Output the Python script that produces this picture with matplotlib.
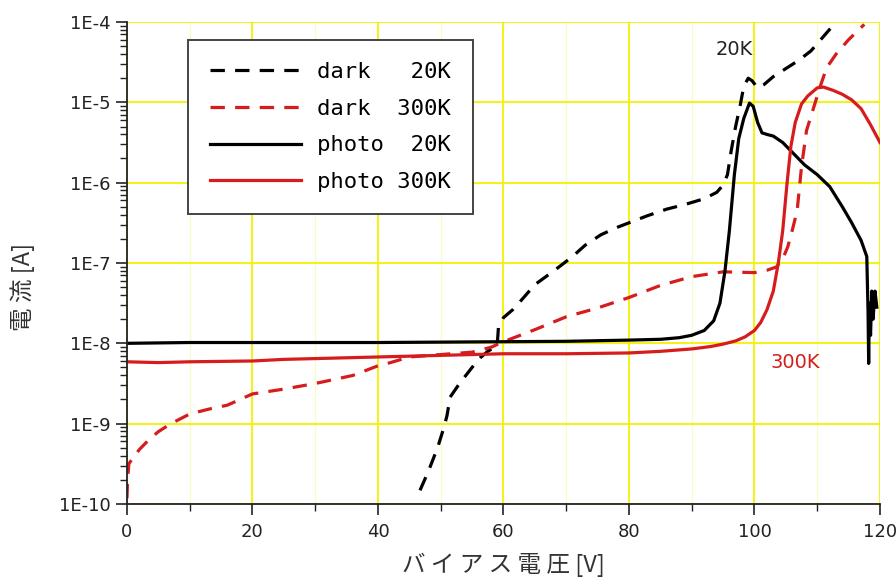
import numpy as np
import matplotlib.pyplot as plt
from matplotlib.ticker import FixedLocator, FuncFormatter, LogLocator, NullFormatter

# bias voltage [V] and log10(current [A])
dark20_v = [46.7, 48, 49.5, 50.5, 51, 51.5, 53, 55, 56.3, 57.5, 59, 59.2, 60, 61.5,
            63, 65, 68, 71, 73, 75.5, 78, 80, 83, 86, 89, 92, 94, 95, 95.7, 96.3,
            97, 97.7, 98.3, 99, 99.6, 100.5, 101.5, 103, 105, 107, 109, 111, 113]
dark20_log = [-9.83, -9.6, -9.3, -9.05, -8.9, -8.67, -8.5, -8.3, -8.18, -8.1, -8.03, -7.8,
              -7.68, -7.58, -7.45, -7.27, -7.1, -6.92, -6.78, -6.65, -6.56, -6.5, -6.41,
              -6.33, -6.27, -6.2, -6.12, -6.03, -5.9, -5.6, -5.3, -5.05, -4.8, -4.7, -4.73,
              -4.82, -4.78, -4.68, -4.58, -4.48, -4.36, -4.18, -4.0]

dark300_v = [0, 0.1, 0.3, 1, 2, 3.5, 5, 7, 10, 13, 16, 20, 25, 30, 36, 40, 42, 45, 50,
             55, 58, 60, 65, 70, 75, 80, 85, 90, 95, 100, 102, 103.5, 104.5, 105.3, 106,
             106.8, 107.5, 108.3, 109.3, 110.4, 111.5, 113, 115, 117.5]
dark300_log = [-9.93, -9.7, -9.5, -9.42, -9.32, -9.2, -9.1, -9.0, -8.88, -8.82, -8.77,
               -8.63, -8.57, -8.5, -8.4, -8.28, -8.24, -8.17, -8.14, -8.11, -8.05, -7.98,
               -7.83, -7.67, -7.56, -7.43, -7.28, -7.17, -7.11, -7.12, -7.09, -7.05, -6.95,
               -6.8, -6.6, -6.35, -5.8, -5.35, -5.1, -4.82, -4.57, -4.4, -4.22, -4.03]

photo20_v = [0, 10, 20, 30, 40, 50, 60, 70, 80, 85, 88, 90, 92, 93.5, 94.5, 95.3, 96,
             96.8, 97.5, 98.3, 99.2, 99.8, 100.5, 101.2, 102, 103, 104.5, 106, 108, 110,
             112, 114, 115.5, 117, 117.9, 118.1, 118.2, 118.3, 118.5, 118.7, 118.9, 119.2,
             119.5]
photo20_log = [-8.0, -7.99, -7.99, -7.99, -7.99, -7.985, -7.98, -7.975, -7.96, -7.95,
               -7.93, -7.9, -7.84, -7.72, -7.5, -7.1, -6.6, -5.9, -5.45, -5.2, -5.01,
               -5.05, -5.25, -5.38, -5.4, -5.42, -5.5, -5.62, -5.78, -5.9, -6.05, -6.3,
               -6.5, -6.72, -6.92, -7.6, -8.25, -7.5, -7.9, -7.35, -7.7, -7.35, -7.55]

photo300_v = [0, 5, 10, 20, 25, 30, 40, 50, 60, 70, 80, 85, 90, 93, 95, 97, 98.5, 100,
              101, 102, 103, 103.8, 104.5, 105.2, 105.8, 106.5, 107.5, 108.5, 110, 111,
              112.5, 114, 115.5, 117, 118.5, 120]
photo300_log = [-8.23, -8.24, -8.23, -8.22, -8.2, -8.19, -8.17, -8.15, -8.13, -8.13,
                -8.12, -8.1, -8.07, -8.04, -8.01, -7.97, -7.92, -7.84, -7.74, -7.58, -7.35,
                -7.0, -6.6, -6.0, -5.55, -5.25, -5.02, -4.92, -4.82, -4.81, -4.85, -4.9,
                -4.97, -5.08, -5.28, -5.5]

labels = ['dark   20K', 'dark  300K', 'photo  20K', 'photo 300K']
red = '#d61c1c'

fig = plt.figure(figsize=(8.96, 5.85), dpi=100)
ax = fig.add_axes([0.1417, 0.1385, 0.8404, 0.8239])

dash = (0, (4.5, 3.2))
ax.plot(dark20_v, 10 ** np.array(dark20_log), color='black', lw=2.3, ls=dash, label=labels[0])
ax.plot(dark300_v, 10 ** np.array(dark300_log), color=red, lw=2.3, ls=dash, label=labels[1])
ax.plot(photo20_v, 10 ** np.array(photo20_log), color='black', lw=2.3, label=labels[2])
ax.plot(photo300_v, 10 ** np.array(photo300_log), color=red, lw=2.3, label=labels[3])

ax.set_yscale('log')
ax.set_xlim(0, 120)
ax.set_ylim(1e-10, 1e-4)

ax.xaxis.set_major_locator(FixedLocator([0, 20, 40, 60, 80, 100, 120]))
ax.xaxis.set_minor_locator(FixedLocator([10, 30, 50, 70, 90, 110]))
ax.yaxis.set_major_locator(LogLocator(base=10, numticks=10))
ax.yaxis.set_minor_locator(LogLocator(base=10, subs=np.arange(2, 10), numticks=10))
ax.yaxis.set_minor_formatter(NullFormatter())
ax.yaxis.set_major_formatter(FuncFormatter(lambda v, p: '1E%d' % round(np.log10(v))))

ax.grid(True, which='major', color='#f2f200', lw=1.3)
ax.grid(True, which='minor', axis='x', color='#fafad0', lw=1.0)
ax.set_axisbelow(True)

for s in ['top', 'right']:
    ax.spines[s].set_visible(False)
for s in ['left', 'bottom']:
    ax.spines[s].set_color('#222222')
    ax.spines[s].set_linewidth(1.3)

ax.tick_params(which='major', direction='out', length=8, width=1.2, colors='#222222',
               labelsize=13)
ax.tick_params(which='minor', direction='out', length=5, width=1.0, colors='#222222')
ax.tick_params(axis='x', pad=6)

jp = ['Noto Sans CJK JP', 'DejaVu Sans']
ax.set_xlabel('バ イ ア ス 電 圧 [V]', family=jp, fontsize=17, color='#333333', labelpad=8)
ax.set_ylabel('電 流 [A]', family=jp, fontsize=17, color='#333333')
ax.yaxis.set_label_coords(-0.122, 0.45)

ax.text(96.7, 4.6e-5, '20K', fontsize=14, color='#222222', ha='center', va='center')
ax.text(106.5, 5.8e-9, '300K', fontsize=14, color=red, ha='center', va='center')

leg = ax.legend(loc='upper left', bbox_to_anchor=(0.081, 0.963), borderaxespad=0,
                prop={'family': 'DejaVu Sans Mono', 'size': 16},
                handlelength=4.1, handletextpad=0.7, labelspacing=0.75, borderpad=1.0,
                fancybox=False, framealpha=1, edgecolor='#444444')
leg.get_frame().set_linewidth(1.4)

fig.savefig('out.png', dpi=100)
